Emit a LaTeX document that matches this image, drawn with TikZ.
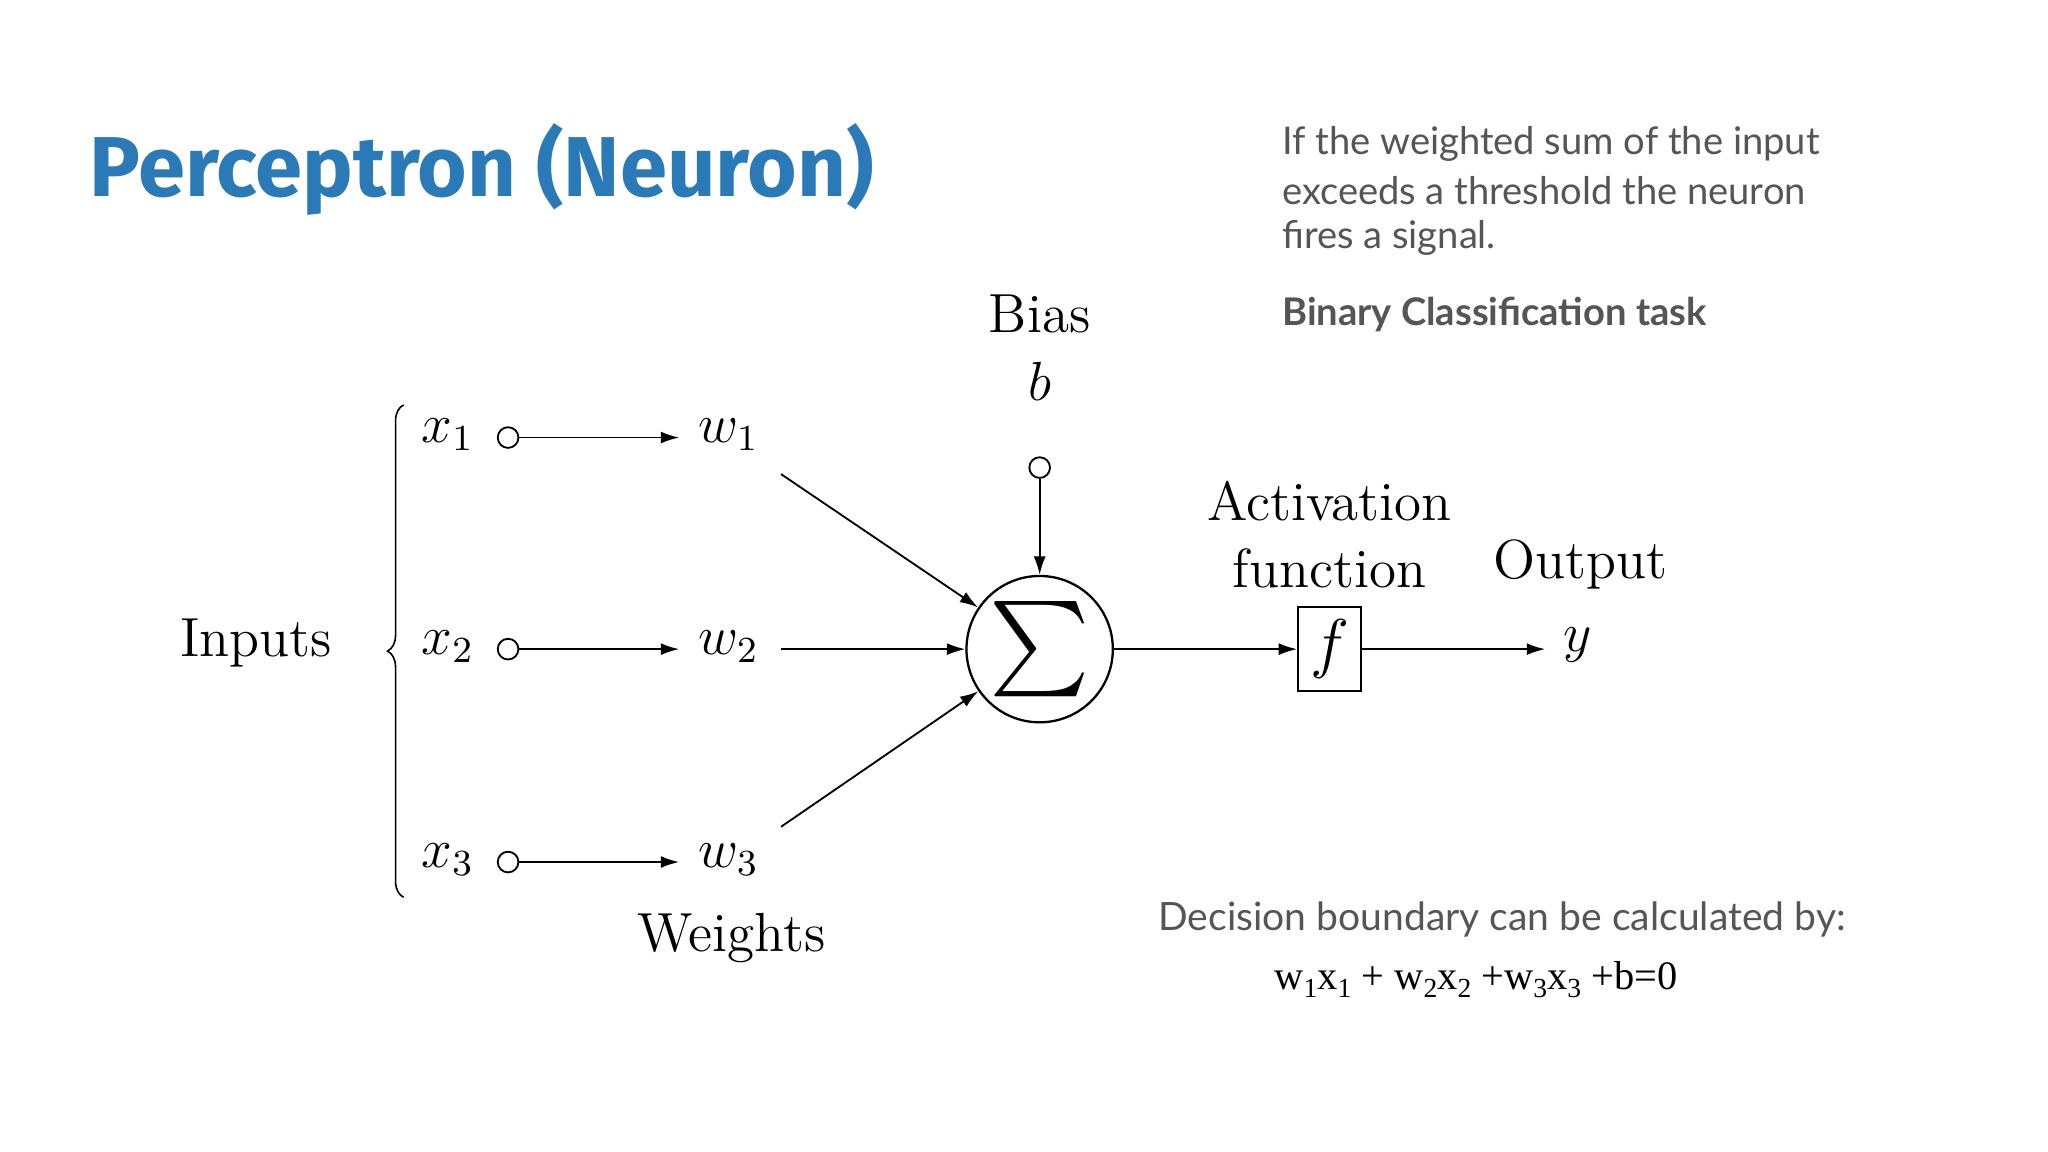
\documentclass[tikz,border=0pt]{standalone}
\usepackage{fontspec}
\usepackage{amsmath}
\setmainfont{Latin Modern Roman}
\newfontfamily\sansf{Lato}
\newfontfamily\titlef{Fira Sans}
\newfontfamily\eqf{Liberation Serif}
\usetikzlibrary{arrows.meta,decorations.pathreplacing}
\definecolor{titleblue}{HTML}{2A7AB8}
\definecolor{txtgrey}{HTML}{555555}
\newcommand{\lsub}[1]{\raisebox{-0.45ex}{\fontsize{6}{7}\selectfont #1}}
\begin{document}
\begin{tikzpicture}[x=0.01cm,y=-0.01cm,
  lbl/.style={inner sep=0pt,font=\fontsize{12}{14}\selectfont},
  side/.style={inner sep=0pt,anchor=west,text=txtgrey,font=\sansf\fontsize{8.3}{10}\selectfont},
  arr/.style={-{Latex[length=4pt,width=2.6pt]},line width=0.4pt},
  port/.style={circle,draw,line width=0.4pt,inner sep=0pt,minimum size=4.5pt}]
\useasboundingbox[fill=white] (0,0) rectangle (1568,882);
\node[anchor=west,inner sep=0pt,text=titleblue,font=\titlef\bfseries\fontsize{18.5}{22}\selectfont] (title) at (68,130) {Perceptron (Neuron)};
\node[side] (t1) at (981,110) {If the weighted sum of the input};
\node[side] (t2) at (981,146) {exceeds a threshold the neuron};
\node[side] (t3) at (981,182) {fires a signal.};
\node[side,font=\sansf\bfseries\fontsize{8.3}{10}\selectfont] (t4) at (981,241) {Binary Classification task};
\node[lbl] (bias) at (796,240) {Bias};
\node[lbl] (b) at (796,292) {$b$};
\node[port] (bp) at (796,358) {};
\node[circle,draw,line width=0.5pt,minimum size=1.12cm,inner sep=0pt] (sum) at (796,497) {\fontsize{22}{24}\selectfont$\sum$};
\draw[arr] (bp) -- (sum);
\foreach \i/\y in {1/335,2/497,3/660}{
  \node[lbl] (x\i) at (343,\y-2) {$x_{\i}$};
  \node[port] (p\i) at (389,\y) {};
  \coordinate (e\i) at (520,\y);
  \draw[arr] (p\i) -- (e\i);
  \node[lbl] (w\i) at (558,\y-2) {$w_{\i}$};
}
\coordinate (s1) at (598,363);
\coordinate (s2) at (598,497);
\coordinate (s3) at (598,633);
\draw[arr] (s1) -- (sum);
\draw[arr] (s2) -- (sum);
\draw[arr] (s3) -- (sum);
\coordinate (bt) at (309,310);
\coordinate (bb) at (309,687);
\draw[line width=0.35pt,decorate,decoration={brace,amplitude=3.5pt}] (bb) -- (bt);
\node[lbl] (inputs) at (196,492) {Inputs};
\node[lbl] (weights) at (560,718) {Weights};
\node[lbl] (act1) at (1018,384) {Activation};
\node[lbl] (act2) at (1018,435) {function};
\node[lbl] (out) at (1210,432) {Output};
\node[draw,line width=0.5pt,minimum width=0.48cm,minimum height=0.64cm,inner sep=0pt] (f) at (1018,497) {\fontsize{14}{16}\selectfont$f$};
\draw[arr] (sum) -- (f);
\coordinate (ye) at (1183,497);
\draw[arr] (f) -- (ye);
\node[lbl] (y) at (1208,494) {$y$};
\node[inner sep=0pt,text=txtgrey,font=\sansf\fontsize{8.5}{10}\selectfont] (dec) at (1150,704) {Decision boundary can be calculated by:};
\node[inner sep=0pt,font=\eqf\fontsize{8.8}{10}\selectfont] (eq) at (1130,750) {w\lsub{1}x\lsub{1} + w\lsub{2}x\lsub{2} +w\lsub{3}x\lsub{3} +b=0};
\end{tikzpicture}
\end{document}
